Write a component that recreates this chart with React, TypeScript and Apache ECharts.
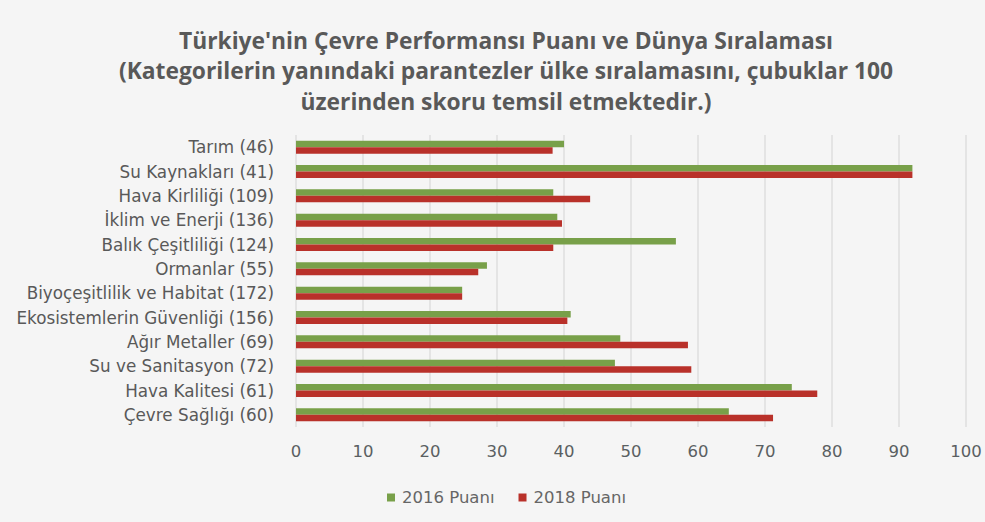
import React, { useEffect, useRef } from "react";
import * as echarts from "echarts";

const titleLines = [
  "Türkiye'nin Çevre Performansı Puanı ve Dünya Sıralaması",
  "(Kategorilerin yanındaki parantezler ülke sıralamasını, çubuklar 100",
  "üzerinden skoru temsil etmektedir.)",
];

const categories = [
  "Tarım (46)",
  "Su Kaynakları (41)",
  "Hava Kirliliği (109)",
  "İklim ve Enerji (136)",
  "Balık Çeşitliliği (124)",
  "Ormanlar (55)",
  "Biyoçeşitlilik ve Habitat (172)",
  "Ekosistemlerin Güvenliği (156)",
  "Ağır Metaller (69)",
  "Su ve Sanitasyon (72)",
  "Hava Kalitesi (61)",
  "Çevre Sağlığı (60)",
];

const puan2016 = [40.0, 92.0, 38.4, 39.0, 56.7, 28.5, 24.8, 41.0, 48.4, 47.6, 74.0, 64.6];
const puan2018 = [38.3, 92.0, 43.9, 39.7, 38.4, 27.2, 24.8, 40.5, 58.5, 59.0, 77.8, 71.2];

const seriesNames = ["2016 Puanı", "2018 Puanı"];

export default function App() {
  const ref = useRef<HTMLDivElement>(null);
  useEffect(() => {
    if (!ref.current) return;
    const chart = echarts.init(ref.current, null, { renderer: "svg" });
    const font = "'Open Sans', 'Noto Sans', sans-serif";
    const labelFont = "'DejaVu Sans', sans-serif";
    chart.setOption({
      animation: false,
      backgroundColor: "#f5f5f5",
      textStyle: { fontFamily: font },
      title: {
        text: titleLines.join("\n"),
        left: 501,
        textAlign: "center",
        top: 20,
        textStyle: {
          fontSize: 22.8,
          fontWeight: "bold",
          color: "#595959",
          lineHeight: 30.5,
          fontFamily: font,
        },
      },
      legend: {
        top: 484,
        left: 382,
        itemWidth: 8,
        itemHeight: 8,
        itemGap: 24,
        icon: "rect",
        textStyle: { fontSize: 16.5, color: "#666666", fontFamily: labelFont, padding: [0, 0, 0, 2] },
        data: seriesNames,
      },
      grid: { left: 296, right: 19, top: 135, bottom: 95 },
      xAxis: {
        type: "value",
        min: 0,
        max: 100,
        interval: 10,
        axisLine: { show: false },
        axisTick: { show: false },
        axisLabel: { fontSize: 16.5, color: "#5a5f62", fontFamily: labelFont, margin: 16 },
        splitLine: { lineStyle: { color: "#e4e4e4", width: 2 } },
      },
      yAxis: {
        type: "category",
        data: categories,
        inverse: true,
        axisLine: { show: false },
        axisTick: { show: false },
        axisLabel: { fontSize: 16.8, color: "#595959", fontFamily: labelFont, margin: 22 },
      },
      series: [
        {
          name: seriesNames[0],
          type: "bar",
          data: puan2016,
          barWidth: 6.5,
          barGap: "0%",
          itemStyle: { color: "#78a049" },
        },
        {
          name: seriesNames[1],
          type: "bar",
          data: puan2018,
          barWidth: 6.5,
          itemStyle: { color: "#b9312a" },
        },
      ],
    });
    return () => chart.dispose();
  }, []);
  return (
    <div
      ref={ref}
      style={{ position: "fixed", left: 0, top: 0, width: 985, height: 522 }}
    />
  );
}
